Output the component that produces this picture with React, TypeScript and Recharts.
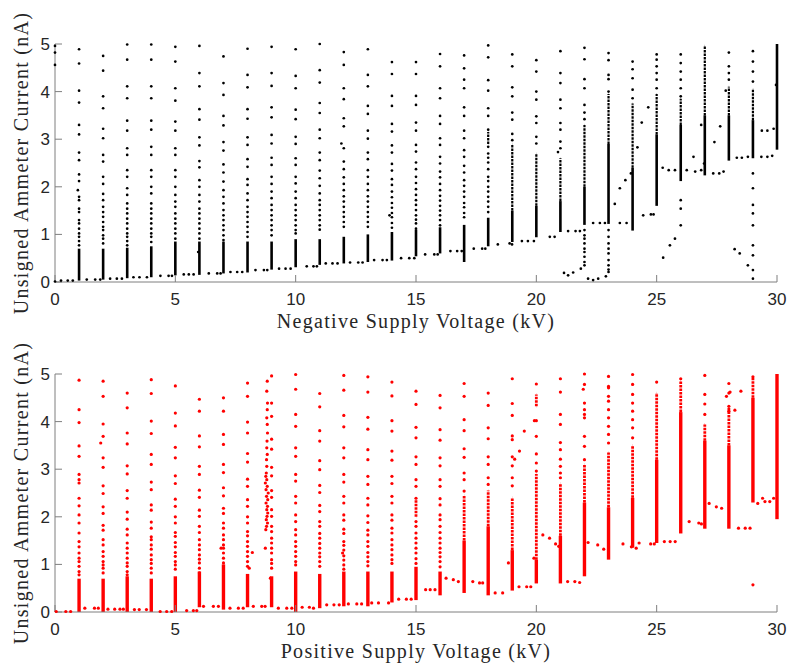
import { ScatterChart, Scatter, XAxis, YAxis, ErrorBar, Label } from 'recharts';

// Supply voltage steps (kV) and current ticks (nA)
const xTicks = [0, 5, 10, 15, 20, 25, 30];
const yTicks = [0, 1, 2, 3, 4, 5];

// ---- Negative supply (top panel) ----
// isolated readings stacked above each voltage step: [kV, currents]
const negStacks: [number, number[]][] = [
  [1, [4.89, 4.59, 4.02, 3.77, 3.3, 3.1, 2.72, 2.56, 2.26, 2.12, 1.79, 1.72, 1.54, 1.47, 1.3, 1.23, 1.12, 1.02, 0.95, 0.86, 0.77]],
  [2, [4.75, 4.44, 3.9, 3.65, 3.22, 3.02, 2.67, 2.53, 2.21, 2.06, 1.85, 1.72, 1.58, 1.47, 1.37, 1.26, 1.16, 1.09, 0.98, 0.91, 0.81]],
  [3, [4.99, 4.67, 4.11, 3.86, 3.39, 3.18, 2.81, 2.67, 2.35, 2.21, 1.97, 1.83, 1.65, 1.54, 1.44, 1.33, 1.23, 1.12, 1.02, 0.95, 0.86, 0.77]],
  [4, [4.99, 4.67, 4.11, 3.86, 3.39, 3.2, 2.84, 2.67, 2.35, 2.21, 2.0, 1.86, 1.65, 1.54, 1.44, 1.33, 1.23, 1.12, 1.02, 0.95, 0.84]],
  [5, [4.94, 4.63, 4.07, 3.81, 3.37, 3.18, 2.81, 2.67, 2.35, 2.21, 2.0, 1.83, 1.69, 1.58, 1.44, 1.33, 1.23, 1.12, 1.02, 0.91]],
  [6, [4.96, 4.39, 4.11, 3.63, 3.41, 3.04, 2.87, 2.54, 2.41, 2.14, 2.0, 1.83, 1.69, 1.54, 1.44, 1.33, 1.23, 1.12, 1.02, 0.91]],
  [7, [4.74, 4.18, 3.93, 3.49, 3.29, 2.94, 2.76, 2.47, 2.3, 2.11, 1.93, 1.79, 1.65, 1.51, 1.4, 1.3, 1.19, 1.09, 0.98, 0.88]],
  [8, [4.9, 4.35, 4.09, 3.63, 3.43, 3.04, 2.88, 2.58, 2.42, 2.16, 2.04, 1.86, 1.72, 1.58, 1.47, 1.37, 1.26, 1.16, 1.05, 0.95]],
  [9, [4.94, 4.39, 4.12, 3.67, 3.46, 3.09, 2.91, 2.61, 2.46, 2.21, 2.06, 1.9, 1.76, 1.62, 1.51, 1.4, 1.3, 1.19, 1.09, 0.98]],
  [10, [4.89, 4.33, 4.07, 3.62, 3.42, 3.05, 2.9, 2.6, 2.46, 2.21, 2.07, 1.9, 1.76, 1.62, 1.51, 1.4, 1.3, 1.19, 1.09, 1.02]],
  [11, [5.0, 4.45, 4.19, 3.76, 3.55, 3.2, 3.02, 2.72, 2.56, 2.34, 2.18, 2.02, 1.86, 1.72, 1.62, 1.51, 1.4, 1.3, 1.19, 1.1]],
  [12, [4.83, 4.56, 4.07, 3.84, 3.44, 3.27, 2.81, 2.53, 2.37, 2.2, 2.06, 1.93, 1.8, 1.69, 1.58, 1.47, 1.37, 1.26, 1.16]],
  [13, [4.89, 4.35, 4.11, 3.7, 3.53, 3.18, 3.01, 2.72, 2.58, 2.35, 2.21, 2.06, 1.93, 1.8, 1.69, 1.58, 1.47, 1.37, 1.26, 1.16]],
  [14, [4.62, 4.37, 3.91, 3.7, 3.32, 3.16, 2.87, 2.72, 2.48, 2.34, 2.16, 2.04, 1.9, 1.78, 1.66, 1.56, 1.45, 1.36, 1.24, 1.14]],
  [15, [4.62, 4.37, 3.91, 3.72, 3.35, 3.18, 2.88, 2.74, 2.51, 2.37, 2.21, 2.08, 1.95, 1.83, 1.72, 1.62, 1.51, 1.4, 1.31, 1.23, 1.12]],
  [16, [4.79, 4.53, 4.07, 3.86, 3.49, 3.32, 3.02, 2.88, 2.63, 2.49, 2.32, 2.2, 2.06, 1.93, 1.81, 1.71, 1.6, 1.5, 1.4, 1.3, 1.19]],
  [17, [4.76, 4.49, 4.25, 4.07, 3.67, 3.49, 3.18, 3.02, 2.77, 2.63, 2.44, 2.3, 2.14, 2.02, 1.9, 1.79, 1.66, 1.57, 1.45, 1.36]],
  [18, [4.97, 4.72, 4.24, 4.02, 3.65, 3.49, 3.2, 2.84, 2.7, 2.61, 2.51, 2.37, 2.21, 2.12, 2.0, 1.9, 1.79, 1.69, 1.58, 1.47]],
  [19, [4.78, 4.53, 4.09, 3.9, 3.56, 3.41, 3.11, 2.98]],
  [20, [4.66, 4.42, 4.0, 3.83, 3.48, 3.34, 3.05, 2.91]],
  [21, [4.85, 4.39, 4.18, 3.83, 3.65, 3.34, 3.2, 2.95, 2.81]],
  [22, [4.92, 4.68, 4.26, 4.07, 3.72, 3.56, 3.42, 1.09, 0.98, 0.91, 0.81, 0.7, 0.63, 0.53, 0.42, 0.35]],
  [23, [4.81, 4.66, 4.35, 4.26, 4.0, 1.09, 0.95, 0.81, 0.7, 0.6, 0.46, 0.35, 0.26, 0.21]],
  [24, [4.63, 4.47, 4.28, 4.04, 3.86]],
  [25, [4.78, 4.67, 4.53, 4.39, 4.25, 4.07]],
  [26, [4.78, 4.6, 4.42, 4.25, 4.07, 3.9, 1.72, 1.54, 1.19]],
  [28, [4.82, 4.53, 4.39, 4.25]],
  [29, [4.85, 4.63, 4.42, 4.21, 2.28, 1.97, 1.62, 1.44, 1.19, 0.77, 0.56, 0.25, 0.07]],
];
// solid clusters of readings: [kV, low, high]
const negCores: [number, number, number][] = [
  [1, 0.03, 0.7], [2, 0.05, 0.7], [3, 0.08, 0.72], [4, 0.1, 0.75], [5, 0.14, 0.85],
  [6, 0.15, 0.85], [7, 0.18, 0.85], [8, 0.2, 0.85], [9, 0.26, 0.85], [10, 0.31, 0.9],
  [11, 0.36, 0.9], [12, 0.39, 0.95], [13, 0.42, 1.0], [14, 0.45, 1.05], [15, 0.54, 1.1],
  [16, 0.6, 1.15], [17, 0.42, 1.2], [18, 0.75, 1.35], [19, 0.84, 1.5], [20, 0.94, 1.6],
  [21, 1.05, 1.7], [22, 1.2, 2.0], [23, 1.22, 2.9], [24, 1.08, 2.4], [25, 1.6, 3.1],
  [26, 2.12, 3.3], [27, 2.24, 3.5], [28, 2.55, 3.5], [29, 2.6, 3.4], [30, 2.78, 5.0],
];
// closely spaced readings, looser than a cluster
const negTrails: [number, number, number][] = [
  [18, 2.9, 3.15], [19, 1.5, 2.9], [20, 1.6, 2.7], [21, 1.7, 2.6], [22, 2.0, 3.3],
  [23, 2.9, 3.95], [24, 2.4, 3.75], [25, 3.1, 3.95], [26, 3.3, 3.85], [27, 3.5, 4.96],
  [28, 3.5, 4.1], [29, 3.4, 4.05],
];
// readings taken while ramping between steps
const negStrays: [number, number][] = [
  [0, 4.96], [0, 4.82], [0, 4.56], [0, 0.01], [0.25, 0.03], [0.53, 0.03], [0.74, 0.03],
  [0.95, 1.93], [1.32, 0.05], [1.67, 0.05], [1.88, 0.05], [2.29, 0.07], [2.57, 0.07], [2.78, 0.07],
  [3.26, 0.1], [3.51, 0.1], [3.82, 0.1], [4.38, 0.13], [4.72, 0.13], [4.86, 0.13],
  [5.35, 0.16], [5.56, 0.16], [5.76, 0.16], [5.95, 0.63], [6.39, 0.18], [6.74, 0.18], [6.88, 0.18],
  [7.29, 0.21], [7.57, 0.21], [7.78, 0.21], [8.33, 0.25], [8.68, 0.25], [8.82, 0.25],
  [9.31, 0.28], [9.58, 0.28], [9.79, 0.28], [10.46, 0.33], [10.74, 0.33], [10.88, 0.33],
  [11.25, 0.39], [11.53, 0.39], [11.74, 0.39], [11.9, 2.91], [12.26, 0.41], [12.6, 0.41], [12.78, 0.41],
  [13.26, 0.46], [13.61, 0.46], [13.79, 0.46], [13.9, 1.4], [14.38, 0.5], [14.72, 0.5], [14.93, 0.5],
  [15.38, 0.58], [15.76, 0.58], [15.9, 0.58], [16.43, 0.65], [16.71, 0.65], [16.9, 0.65],
  [17.4, 0.7], [17.75, 0.7], [17.88, 0.7], [18.4, 0.79], [18.89, 0.81], [18.99, 0.79],
  [19.4, 0.86], [19.65, 0.86], [19.9, 0.86], [20.56, 0.95], [20.76, 0.95], [20.9, 2.73],
  [21.32, 1.07], [21.63, 1.07], [21.81, 1.07], [21.15, 0.19], [21.32, 0.14], [21.53, 0.2], [21.85, 0.28],
  [22.15, 0.07], [22.36, 0.04], [22.57, 0.07], [22.89, 0.12], [22.36, 1.24], [22.64, 1.24], [22.85, 1.24],
  [23.47, 1.24], [23.75, 1.24], [23.26, 1.64], [23.47, 1.97], [23.7, 2.14], [23.93, 2.28],
  [24.2, 2.83], [24.38, 3.35], [24.65, 3.67], [24.44, 1.4], [24.76, 1.42], [24.87, 1.42],
  [25.27, 0.51], [25.55, 0.77], [25.76, 0.91], [25.25, 2.4], [25.5, 2.35], [25.76, 2.35],
  [26.25, 2.35], [26.53, 2.63], [26.6, 2.32], [26.85, 2.35], [26.85, 3.3], [26.97, 2.49],
  [27.35, 2.28], [27.6, 2.28], [27.78, 2.32], [27.4, 2.94], [27.64, 3.27], [27.87, 4.02],
  [28.33, 2.61], [28.54, 2.61], [28.79, 2.63], [28.24, 0.69], [28.45, 0.6], [28.79, 0.35],
  [29.35, 2.63], [29.6, 2.63], [29.8, 2.65], [29.37, 3.18], [29.6, 3.18], [29.86, 3.22], [29.96, 4.14],
];

// ---- Positive supply (bottom panel) ----
const posStacks: [number, number[]][] = [
  [1, [4.87, 4.25, 3.98, 3.49, 3.27, 2.89, 2.78, 2.71, 2.39, 2.23, 2.04, 1.87, 1.66, 1.48, 1.37, 1.24, 1.13, 1.06, 0.96, 0.85, 0.78]],
  [2, [4.85, 4.53, 3.95, 3.69, 3.24, 3.04, 2.65, 2.49, 2.21, 2.07, 1.82, 1.72, 1.52, 1.41, 1.27, 1.17, 1.06, 0.99, 0.92, 0.82]],
  [3, [4.6, 4.29, 3.76, 3.53, 3.07, 2.9, 2.55, 2.39, 2.1, 1.95, 1.74, 1.62, 1.45, 1.34, 1.24, 1.13, 1.03, 0.96, 0.85, 0.78]],
  [4, [4.88, 4.59, 4.01, 3.75, 3.31, 3.1, 2.73, 2.57, 2.25, 2.14, 1.89, 1.76, 1.58, 1.52, 1.41, 1.32, 1.2, 1.1, 1.02, 0.92, 0.82]],
  [5, [4.75, 4.18, 3.91, 3.46, 3.24, 2.86, 2.7, 2.37, 2.22, 2.0, 1.87, 1.67, 1.59, 1.46, 1.37, 1.25, 1.17, 1.06, 0.99, 0.9]],
  [6, [4.47, 4.22, 3.7, 3.47, 3.06, 2.89, 2.56, 2.41, 2.14, 2.01, 1.8, 1.67, 1.52, 1.41, 1.31, 1.2, 1.11, 1.03, 0.92, 0.82]],
  [7, [4.5, 4.22, 3.73, 3.52, 3.1, 2.93, 2.61, 2.44, 2.18, 2.07, 1.87, 1.76, 1.62, 1.52, 1.41, 1.34, 1.24, 1.13, 1.03]],
  [8, [4.81, 4.53, 3.99, 3.76, 3.33, 3.15, 2.79, 2.64, 2.36, 2.22, 2.0, 1.87, 1.69, 1.6, 1.48, 1.38, 1.27, 1.17, 1.06, 0.96]],
  [9, [4.96, 4.39, 4.11, 3.63, 3.42, 3.04, 2.86, 2.55, 2.41, 2.15, 2.01, 1.8, 1.69, 1.55, 1.45, 1.34, 1.24, 1.1, 1.02, 0.92]],
  [10, [4.99, 4.68, 4.15, 3.9, 3.45, 3.27, 2.89, 2.75, 2.43, 2.29, 2.04, 1.9, 1.73, 1.62, 1.48, 1.38, 1.27, 1.17, 1.06, 0.99]],
  [11, [4.59, 4.31, 3.81, 3.59, 3.18, 2.99, 2.66, 2.51, 2.24, 2.11, 1.9, 1.8, 1.65, 1.55, 1.44, 1.34, 1.24, 1.16, 1.06, 0.96]],
  [12, [4.97, 4.66, 4.13, 3.89, 3.45, 3.24, 2.89, 2.73, 2.43, 2.29, 2.04, 1.93, 1.74, 1.65, 1.48, 1.4, 1.3, 1.18, 1.09, 0.99, 0.9]],
  [13, [4.94, 4.62, 4.09, 3.84, 3.41, 3.2, 2.85, 2.68, 2.39, 2.25, 2.02, 1.88, 1.72, 1.62, 1.48, 1.38, 1.25, 1.16, 1.06, 0.97]],
  [14, [4.83, 4.54, 4.02, 3.8, 3.38, 3.19, 2.85, 2.7, 2.43, 2.29, 2.04, 1.93, 1.76, 1.66, 1.52, 1.41, 1.31, 1.2, 1.1, 1.02]],
  [15, [4.64, 4.36, 3.88, 3.66, 3.26, 3.1, 2.78, 2.64, 2.39, 1.9, 1.8, 1.66, 1.55, 1.45, 1.34, 1.24, 1.12, 1.02]],
  [16, [4.55, 4.29, 3.83, 3.61, 3.24, 3.07, 2.78, 2.64, 2.38, 2.25, 2.04, 1.94, 1.8, 1.67, 1.55, 1.45, 1.34, 1.25, 1.16, 1.06, 0.95]],
  [17, [4.8, 4.53, 4.04, 3.81, 3.43, 3.25, 2.92, 2.78, 2.54]],
  [18, [4.6, 4.34, 3.87, 3.64, 3.26, 3.1, 2.82, 2.68]],
  [19, [4.9, 4.38, 4.13, 3.7, 3.62, 3.26, 3.07, 2.82, 2.65]],
  [20, [4.79, 4.02, 3.69, 3.32, 3.13, 2.96]],
  [21, [4.9, 4.62, 4.15, 3.94, 3.56, 3.41, 3.21, 3.06, 2.92, 2.82]],
  [22, [5.0, 4.78, 4.39, 4.25, 4.15, 4.08, 3.69, 3.48, 3.2]],
  [23, [4.95, 4.74, 4.71, 4.53, 4.43, 4.25, 4.08, 3.9, 3.73, 3.55]],
  [24, [4.99, 4.78, 4.57, 4.39, 4.22, 4.04, 3.87, 3.66]],
  [25, [4.83]],
  [26, [4.9]],
  [27, [4.97, 4.57, 4.37, 4.15]],
  [28, [4.8, 4.6, 4.32, 4.22]],
  [29, [4.94, 0.57]],
];
const posCores: [number, number, number][] = [
  [1, 0.0, 0.7], [2, 0.0, 0.7], [3, 0.0, 0.75], [4, 0.0, 0.7], [5, 0.0, 0.75],
  [6, 0.1, 0.85], [7, 0.05, 1.0], [8, 0.1, 0.8], [9, 0.1, 0.75], [10, 0.0, 0.85],
  [11, 0.08, 0.8], [12, 0.12, 0.85], [13, 0.12, 0.85], [14, 0.2, 0.85], [15, 0.25, 0.95],
  [16, 0.35, 0.85], [17, 0.4, 1.5], [18, 0.35, 1.8], [19, 0.45, 1.3], [20, 0.6, 1.1],
  [21, 0.6, 1.6], [22, 0.75, 2.3], [23, 1.1, 2.2], [24, 1.35, 2.4], [25, 1.45, 3.2],
  [26, 1.65, 4.2], [27, 1.75, 3.6], [28, 1.75, 3.5], [29, 2.3, 4.5], [30, 1.95, 5.0],
];
const posTrails: [number, number, number][] = [
  [15, 2.0, 2.36], [17, 1.5, 2.45], [18, 1.8, 2.55], [19, 1.3, 2.4], [20, 1.1, 2.9], [20, 4.32, 4.57],
  [21, 1.6, 2.7], [22, 2.3, 3.1], [23, 2.2, 3.35], [24, 2.4, 3.5], [25, 3.2, 4.6], [26, 4.2, 4.85],
  [27, 3.6, 3.94], [28, 3.5, 4.3], [29, 4.5, 4.92],
];
const posStrays: [number, number][] = [
  [0.05, 0.01], [0.45, 0.01], [0.65, 0.01], [1.24, 0.08], [1.64, 0.08], [1.8, 0.08], [1.9, 3.55],
  [2.2, 0.06], [2.48, 0.06], [2.7, 0.06], [2.84, 0.06], [3.3, 0.05], [3.5, 0.05], [3.8, 0.05],
  [4.37, 0.01], [4.64, 0.01], [4.85, 0.01], [5.47, 0.03], [5.75, 0.03], [5.89, 0.03],
  [6.17, 0.12], [6.58, 0.12], [6.79, 0.12], [6.9, 1.34], [7.27, 0.08], [7.62, 0.08], [7.82, 0.08],
  [8.07, 0.92], [8.2, 1.25], [8.24, 0.12], [8.59, 0.12], [8.73, 0.12],
  [8.82, 4.85], [8.8, 4.64], [8.83, 4.39], [8.82, 4.25], [8.8, 4.08], [8.82, 3.94], [8.83, 3.76],
  [8.81, 3.59], [8.8, 3.45], [8.82, 3.31], [8.79, 3.2], [8.8, 3.06], [8.78, 2.92], [8.76, 2.85],
  [8.8, 2.78], [8.74, 2.71], [8.82, 2.64], [8.77, 2.57], [8.86, 2.5], [8.79, 2.43], [8.84, 2.36],
  [8.77, 2.29], [8.83, 2.22], [8.8, 2.15], [8.84, 2.08], [8.81, 2.01], [8.78, 1.94], [8.83, 1.87],
  [8.79, 1.8], [8.76, 1.73], [8.74, 1.34], [8.95, 0.71],
  [9.28, 0.08], [9.63, 0.08], [9.84, 0.08], [10.27, 0.1], [10.57, 0.1], [10.74, 0.08],
  [11.29, 0.15], [11.59, 0.15], [11.81, 0.15], [11.95, 1.24], [12.19, 0.17], [12.54, 0.17], [12.74, 0.17],
  [13.16, 0.19], [13.44, 0.19], [13.86, 0.19], [14.28, 0.27], [14.6, 0.27], [14.8, 0.27],
  [15.4, 0.47], [15.59, 0.47], [15.79, 0.47], [16.25, 0.71], [16.55, 0.68], [16.76, 0.64],
  [17.36, 0.64], [17.64, 0.61], [17.77, 0.61], [18.29, 0.4], [18.6, 0.4], [18.84, 1.03],
  [19.28, 0.53], [19.6, 0.53], [19.77, 0.53], [19.1, 3.21], [19.3, 3.38], [19.5, 3.8], [19.92, 4.02],
  [19.9, 1.13], [20.27, 1.62], [20.55, 1.55], [20.8, 1.43], [20.93, 1.38],
  [21.3, 0.64], [21.6, 0.64], [21.8, 0.62], [21.95, 4.68], [22.15, 1.46], [22.55, 1.41], [22.8, 1.32],
  [23.6, 1.43], [23.95, 1.37], [24.15, 1.34], [24.27, 1.45], [24.75, 1.43], [24.9, 1.43],
  [25.32, 1.48], [25.56, 1.48], [25.77, 1.48], [26.35, 1.9], [26.75, 1.87], [26.86, 1.85],
  [27.18, 2.28], [27.48, 2.21], [27.7, 2.18], [27.9, 4.53], [28.05, 4.62], [28.25, 4.24], [28.5, 4.64],
  [28.4, 1.76], [28.68, 1.76], [28.88, 1.76], [29.2, 2.28], [29.4, 2.39], [29.5, 2.32], [29.7, 2.32], [29.86, 2.39],
];

const toDots = (stacks: [number, number[]][], strays: [number, number][]) => [
  ...stacks.flatMap(([x, ys]) => ys.map((y) => ({ x, y }))),
  ...strays.map(([x, y]) => ({ x, y })),
];

// a range drawn as a vertical bar through the error-bar of its midpoint
const toRanges = (rows: [number, number, number][]) =>
  rows.map(([x, lo, hi]) => {
    const half = (hi - lo) / 2;
    return { x, y: lo + half, err: [half, half] };
  });

const axisGrey = '#7f7f7f';
const tickStyle = { fill: '#262626', fontSize: 17, fontFamily: '"Liberation Sans", Arial, sans-serif' };
const titleStyle = { fontFamily: '"Liberation Serif", serif', fontSize: 20, letterSpacing: 1.3, fill: '#262626' };

function Panel({ stacks, strays, cores, trails, color, dotR, coreW, trailW, xTitle, height, top, axisHeight, titleGap }: {
  stacks: [number, number[]][];
  strays: [number, number][];
  cores: [number, number, number][];
  trails: [number, number, number][];
  color: string;
  dotR: number;
  coreW: number;
  trailW: number;
  xTitle: string;
  height: number;
  top: number;
  axisHeight: number;
  titleGap: number;
}) {
  const dot = (p: any) => <circle cx={p.cx} cy={p.cy} r={dotR} fill={color} />;
  const none = () => <g />;
  return (
    <ScatterChart width={788} height={height} margin={{ top, right: 11, bottom: 0, left: 0 }}>
      <XAxis
        type="number" dataKey="x" domain={[0, 30]} ticks={xTicks} interval={0}
        height={axisHeight} tickSize={-7} tickMargin={18} tick={tickStyle}
        axisLine={{ stroke: axisGrey }} tickLine={{ stroke: axisGrey }}
      >
        <Label
          content={(p: any) => (
            <text x={p.viewBox.x + p.viewBox.width / 2} y={p.viewBox.y + titleGap} textAnchor="middle" style={titleStyle}>
              {xTitle}
            </text>
          )}
        />
      </XAxis>
      <YAxis
        type="number" dataKey="y" domain={[0, 5]} ticks={yTicks} interval={0}
        width={55} tickSize={-7} tickMargin={12} tick={tickStyle}
        axisLine={{ stroke: axisGrey }} tickLine={{ stroke: axisGrey }}
      >
        <Label
          content={(p: any) => {
            const cx = 28;
            const cy = p.viewBox.y + p.viewBox.height / 2;
            return (
              <text x={cx} y={cy} transform={`rotate(-90 ${cx} ${cy})`} textAnchor="middle" style={titleStyle}>
                Unsigned Ammeter Current (nA)
              </text>
            );
          }}
        />
      </YAxis>
      <Scatter data={toRanges(cores)} shape={none} isAnimationActive={false}>
        <ErrorBar dataKey="err" direction="y" width={0} stroke={color} strokeWidth={coreW} isAnimationActive={false} />
      </Scatter>
      <Scatter data={toRanges(trails)} shape={none} isAnimationActive={false}>
        <ErrorBar dataKey="err" direction="y" width={0} stroke={color} strokeWidth={trailW} strokeDasharray="2.5 1" isAnimationActive={false} />
      </Scatter>
      <Scatter data={toDots(stacks, strays)} shape={dot} isAnimationActive={false} />
    </ScatterChart>
  );
}

export default function App() {
  return (
    <div style={{ position: 'absolute', left: 0, top: 0, width: 788, height: 669, background: '#fff' }}>
      <Panel
        stacks={negStacks} strays={negStrays} cores={negCores} trails={negTrails}
        color="#000000" dotR={1.35} coreW={2.6} trailW={2.2} xTitle="Negative Supply Voltage (kV)"
        height={334} top={44} axisHeight={52} titleGap={46}
      />
      <Panel
        stacks={posStacks} strays={posStrays} cores={posCores} trails={posTrails}
        color="#ff0000" dotR={1.6} coreW={3.4} trailW={2.8} xTitle="Positive Supply Voltage (kV)"
        height={335} top={40} axisHeight={57} titleGap={46}
      />
    </div>
  );
}
